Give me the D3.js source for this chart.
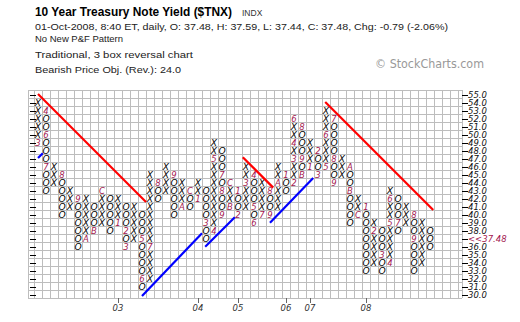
<!DOCTYPE html>
<html><head><meta charset="utf-8">
<script src="https://cdn.jsdelivr.net/npm/d3@7"></script>
<style>body{margin:0;background:#fff}svg{display:block}</style>
</head><body>
<svg id="c" width="520" height="322"></svg>
<script>
// ---- data ----
const colTypes = "XOXOXOXOXOXOXOXOXOXOXOXOXOXOXOXOXOXOXOXOXOXOXOXOXO";
const colLow  = [49,43,44,40,41,36,37,38,39,38,39,36,37,31,32,42,43,40,41,41,42,37,38,40,41,40,41,39,40,40,41,43,44,45,46,45,46,44,45,39,40,33,34,33,34,38,39,33,34,36];
const colHigh = [54,53,46,45,43,42,42,41,43,42,42,41,41,40,45,44,46,45,44,43,44,43,49,48,44,43,46,45,44,43,46,45,52,51,49,48,53,52,47,46,42,41,39,38,43,42,41,40,39,38];
// month markers: [column, box value, month code]
const monthMarks = [[0,49,'3'],[1,53,'4'],[1,50,'6'],[1,46,'7'],[3,45,'8'],[5,42,'9'],[6,37,'A'],[7,38,'B'],[8,43,'C'],
 [10,39,'1'],[11,38,'2'],[11,36,'3'],[13,37,'5'],[13,32,'6'],[14,36,'7'],[15,44,'8'],[17,45,'9'],[18,41,'A'],[19,43,'C'],
 [20,42,'1'],[21,39,'3'],[22,38,'4'],[22,47,'5'],[23,45,'7'],[23,43,'8'],[23,40,'9'],[24,41,'B'],[24,44,'C'],
 [25,43,'1'],[25,40,'2'],[26,44,'3'],[27,45,'4'],[27,41,'5'],[27,39,'6'],[28,40,'7'],[29,43,'8'],[29,40,'9'],[30,44,'A'],
 [31,45,'1'],[32,44,'2'],[32,47,'3'],[32,49,'4'],[32,52,'6'],[33,51,'8'],[33,47,'9'],[33,45,'B'],
 [34,46,'1'],[35,48,'2'],[35,45,'3'],[36,46,'5'],[36,50,'6'],[37,52,'7'],[37,47,'8'],[37,44,'9'],[39,46,'A'],[39,43,'B'],[40,40,'C'],
 [41,41,'1'],[42,38,'2'],[43,35,'3'],[44,34,'4'],[44,39,'5'],[44,42,'6'],[45,39,'7'],[47,40,'8'],[47,37,'9']];
const yearCols   = [10,20,25,31,34,41];
const yearLabels = ["03","04","05","06","07","08"];
const priceTicks = d3.range(55,29,-1);
const lastPrice = 37.48;
// trend lines in (column, box value) space
const redLines  = [[0,55,13.5,41.5],[25.6,47.1,29.4,43.3],[35.9,54,49.4,40.5]];
const blueLines = [[0,47,0.6,47.6],[13,29.75,20.5,37.6],[20.9,35.9,24.6,39.6],[29,38.9,34.4,44.5]];

// ---- layout ----
const svg = d3.select("#c");
const x = d3.scaleLinear().domain([0,53]).range([38,38+8*53]);
const y = d3.scaleLinear().domain([55,30]).range([94,294]);
const gL = 28, gR = 462, gT = 90, gB = 298;

// header
svg.append("text").attr("x",35).attr("y",16).attr("font-family","Liberation Sans, Arial").attr("font-weight","bold")
  .attr("font-size",13).attr("textLength",197).attr("lengthAdjust","spacingAndGlyphs").text("10 Year Treasury Note Yield ($TNX)");
svg.append("text").attr("x",242).attr("y",16).attr("font-family","Liberation Sans, Arial").attr("font-size",8.5).attr("fill","#333").text("INDX");
const sub = [["01-Oct-2008, 8:40 ET, daily, O: 37.48, H: 37.59, L: 37.44, C: 37.48, Chg: -0.79 (-2.06%)",30,413],
             ["No New P&F Pattern",42,88],["Traditional, 3 box reversal chart",58,158],["Bearish Price Obj. (Rev.): 24.0",73,146]];
sub.forEach(s=>svg.append("text").attr("x",35).attr("y",s[1]).attr("font-family","Liberation Sans, Arial").attr("font-size",9)
  .attr("fill","#222").attr("textLength",s[2]).attr("lengthAdjust","spacingAndGlyphs").text(s[0]));
svg.append("text").attr("x",375).attr("y",68).attr("font-family","DejaVu Sans, Liberation Sans").attr("font-size",11.5)
  .attr("fill","#999").attr("textLength",109).attr("lengthAdjust","spacingAndGlyphs").text("\u00A9 StockCharts.com");

// grid
const grid = svg.append("g").attr("stroke","#bdbdbd").attr("stroke-width",1).attr("shape-rendering","crispEdges");
d3.range(34,gR,8).forEach(v=>grid.append("line").attr("x1",v+0.5).attr("x2",v+0.5).attr("y1",gT).attr("y2",gB));
priceTicks.forEach(p=>grid.append("line").attr("x1",gL).attr("x2",gR).attr("y1",y(p)-4+0.5).attr("y2",y(p)-4+0.5));
grid.append("line").attr("x1",gL).attr("x2",gR).attr("y1",gB+0.5).attr("y2",gB+0.5);
grid.append("line").attr("x1",gL+0.5).attr("x2",gL+0.5).attr("y1",gT).attr("y2",gB);
grid.append("line").attr("x1",gR+0.5).attr("x2",gR+0.5).attr("y1",gT).attr("y2",gB);

// axis ticks
const ax = svg.append("g").attr("stroke","#000").attr("shape-rendering","crispEdges");
priceTicks.forEach(p=>{
  ax.append("line").attr("x1",30).attr("x2",36).attr("y1",y(p)+1.5).attr("y2",y(p)+1.5);
  ax.append("line").attr("x1",gR).attr("x2",gR+6).attr("y1",y(p)+1.5).attr("y2",y(p)+1.5);
});
yearCols.forEach(c=>ax.append("line").attr("x1",x(c)+0.5).attr("x2",x(c)+0.5).attr("y1",gB).attr("y2",gB+5).attr("stroke","#666"));

// price labels
priceTicks.forEach(p=>{
  const isLast = p===Math.floor(lastPrice);
  svg.append("text").attr("x",gR+6).attr("y",y(p)+3.5).attr("font-family","DejaVu Sans").attr("font-style","italic")
    .attr("font-size",8.5).attr("fill",isLast?"#a3174f":"#111").text(isLast?"<<"+lastPrice.toFixed(2):p.toFixed(1));
});
yearCols.forEach((c,i)=>svg.append("text").attr("x",x(c)).attr("y",311).attr("text-anchor","middle").attr("font-family","DejaVu Sans")
  .attr("font-style","italic").attr("font-size",8.5).attr("fill","#333").text(yearLabels[i]));

// boxes
const markKey = new Map(monthMarks.map(m=>[m[0]+":"+m[1],m[2]]));
const boxes = [];
colLow.forEach((lo,c)=>{ for(let v=lo; v<=colHigh[c]; v++){ const k=c+":"+v;
  boxes.push({c,v,t:markKey.has(k)?markKey.get(k):colTypes[c],m:markKey.has(k)}); }});
svg.append("g").selectAll("text").data(boxes).join("text")
  .attr("x",d=>x(d.c)).attr("y",d=>y(d.v)+3.5).attr("text-anchor","middle")
  .attr("font-family","DejaVu Sans").attr("font-style","italic").attr("font-size",d=>d.m?8.5:9.2)
  .attr("fill",d=>d.m?"#a3174f":"#000").text(d=>d.t);

// trend lines
const drawL=(arr,col)=>svg.append("g").selectAll("line").data(arr).join("line")
  .attr("x1",d=>x(d[0])).attr("y1",d=>y(d[1])).attr("x2",d=>x(d[2])).attr("y2",d=>y(d[3]))
  .attr("stroke",col).attr("stroke-width",2.2);
drawL(redLines,"#f00"); drawL(blueLines,"#00f");
</script>
</body></html>
